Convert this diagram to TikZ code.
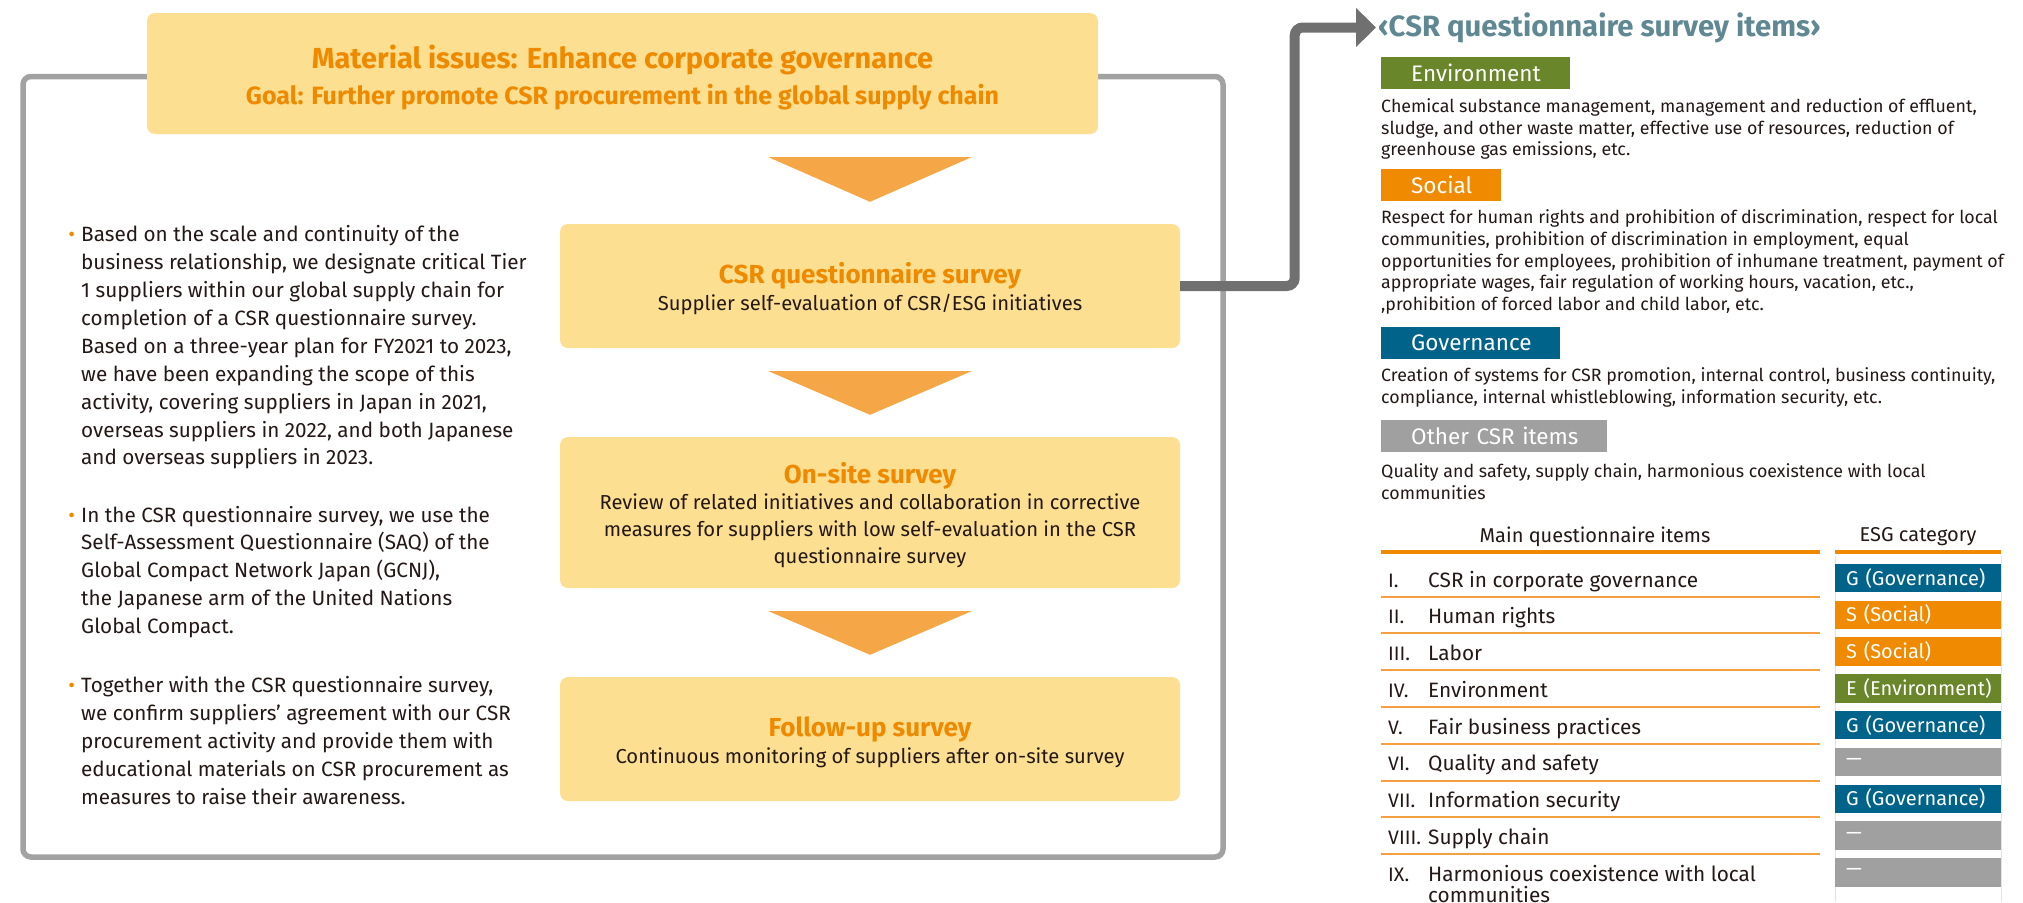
\documentclass[tikz,border=0pt]{standalone}
\usepackage{fontspec}
\setmainfont{Fira Sans}
\usepackage{xcolor}
\definecolor{csrfill}{HTML}{FCDF90}
\definecolor{csrorange}{HTML}{EF8A00}
\definecolor{csrtri}{HTML}{F5A748}
\definecolor{csrframe}{HTML}{A2A2A2}
\definecolor{csrconn}{HTML}{707070}
\definecolor{csrtext}{HTML}{231815}
\definecolor{csrteal}{HTML}{5F8893}
\definecolor{csrgreen}{HTML}{6A862B}
\definecolor{csrsocial}{HTML}{F08A00}
\definecolor{csrblue}{HTML}{00638A}
\definecolor{csrgray}{HTML}{A0A0A0}
\definecolor{csrrule}{HTML}{F5A040}
\definecolor{csrcol}{HTML}{DCE6EB}
\usetikzlibrary{arrows.meta,positioning,calc}

\begin{document}
\begin{tikzpicture}[x=1pt,y=-1pt,
  frame/.style={draw=csrframe, line width=5.5pt, rounded corners=8pt},
  flowbox/.style={fill=csrfill, rounded corners=8pt, inner sep=0pt,
                  minimum width=620pt},
  boxhead/.style={font=\fontsize{26}{30}\selectfont\bfseries, text=csrorange,
                  inner sep=0pt},
  boxsub/.style={font=\fontsize{20.2}{27}\selectfont, text=csrtext,
                 align=center, inner sep=0pt},
  flowtri/.style={fill=csrtri},
  conn/.style={draw=csrconn, line width=10pt, rounded corners=8pt,
               -{Triangle[length=20pt,width=38pt]}},
  bodytext/.style={font=\fontsize{20.7}{27.9}\selectfont, text=csrtext,
                   align=left, anchor=west, inner sep=0pt},
  cattag/.style={anchor=north west, text=white, inner sep=0pt,
                 minimum height=32pt, align=left,
                 font=\fontsize{22.5}{24}\selectfont},
  catdesc/.style={anchor=west, inner sep=0pt, align=left, text=csrtext,
                  font=\fontsize{17.8}{21.7}\selectfont},
  rowtext/.style={anchor=base west, inner sep=0pt, text=csrtext,
                  font=\fontsize{20.8}{21}\selectfont},
  esgtag/.style={anchor=west, text=white, inner sep=0pt,
                 minimum height=28.5pt, text width=166pt, align=left,
                 font=\fontsize{20}{24}\selectfont},
  headrule/.style={draw=csrorange, line width=3.5pt},
  rowrule/.style={draw=csrrule, line width=2pt}
]
  \useasboundingbox (0,0) rectangle (2023,902);

  % outer frame and flow
  \node[frame, minimum width=1200pt, minimum height=780.5pt] (frame)
    at (623,466.75) {};

  \node[flowbox, minimum width=951pt, minimum height=121pt] (goal)
    at (622.5,73.5) {};
  \node[boxhead, font=\fontsize{29}{30}\selectfont\bfseries] (goalhead)
    at (622.5,60) {Material issues: Enhance corporate governance};
  \node[boxhead, font=\fontsize{25}{25}\selectfont\bfseries] (goalsub)
    at (622.5,97) {Goal: Further promote CSR procurement in the global supply chain};

  \node[flowbox, minimum height=124pt] (csrq) at (870,286) {};
  \node[boxhead] (csrqhead) at (870,276) {CSR questionnaire survey};
  \node[boxsub] (csrqsub) at (870,304)
    {Supplier self-evaluation of CSR/ESG initiatives};

  \node[flowbox, minimum height=151pt] (onsite) at (870,512.5) {};
  \node[boxhead] (onsitehead) at (870,476) {On-site survey};
  \node[boxsub] (onsitesub) at (870,531)
    {Review of related initiatives and collaboration in corrective\\
     measures for suppliers with low self-evaluation in the CSR\\
     questionnaire survey};

  \node[flowbox, minimum height=124pt] (followup) at (870,739) {};
  \node[boxhead] (followuphead) at (870,730) {Follow-up survey};
  \node[boxsub] (followupsub) at (870,758)
    {Continuous monitoring of suppliers after on-site survey};

  \foreach \u/\l in {goal/csrq, csrq/onsite, onsite/followup}
    \fill[flowtri] ($(\l.north |- \u.south)+(-101.5,23)$) -- ++(203,0)
      -- ($(\l.north)+(0,-22)$) -- cycle;

  % bullets
  \node[bodytext] (bullet1) at (81,347.5)
    {\llap{\textcolor{csrorange}{•}\hspace{6pt}}Based on the scale and continuity of the\\
     business relationship, we designate critical Tier\\
     1 suppliers within our global supply chain for\\
     completion of a CSR questionnaire survey.\\
     Based on a three-year plan for FY2021 to 2023,\\
     we have been expanding the scope of this\\
     activity, covering suppliers in Japan in 2021,\\
     overseas suppliers in 2022, and both Japanese\\
     and overseas suppliers in 2023.};
  \node[bodytext] (bullet2) at (81,572)
    {\llap{\textcolor{csrorange}{•}\hspace{6pt}}In the CSR questionnaire survey, we use the\\
     Self-Assessment Questionnaire (SAQ) of the\\
     Global Compact Network Japan (GCNJ),\\
     the Japanese arm of the United Nations\\
     Global Compact.};
  \node[bodytext] (bullet3) at (81,740.5)
    {\llap{\textcolor{csrorange}{•}\hspace{6pt}}Together with the CSR questionnaire survey,\\
     we confirm suppliers’ agreement with our CSR\\
     procurement activity and provide them with\\
     educational materials on CSR procurement as\\
     measures to raise their awareness.};

  % survey items panel
  \node[anchor=west, inner sep=0pt, text=csrteal,
        font=\fontsize{29.3}{32}\selectfont\bfseries]
    (itemstitle) at (1378,27.5) {‹CSR questionnaire survey items›};
  \draw[conn, shorten >=2pt] (csrq.east) -- ++(114.5,0) |- (itemstitle.west);

  \node[cattag, fill=csrgreen, text width=189pt] (envtag) at (1381,57)
    {\hspace*{30pt}Environment};
  \node[catdesc] (envdesc) at (1381,129)
    {Chemical substance management, management and reduction of effluent,\\
     sludge, and other waste matter, effective use of resources, reduction of\\
     greenhouse gas emissions, etc.};
  \node[cattag, fill=csrsocial, text width=120pt] (soctag) at (1381,169)
    {\hspace*{30pt}Social};
  \node[catdesc] (socdesc) at (1381,262)
    {Respect for human rights and prohibition of discrimination, respect for local\\
     communities, prohibition of discrimination in employment, equal\\
     opportunities for employees, prohibition of inhumane treatment, payment of\\
     appropriate wages, fair regulation of working hours, vacation, etc.,\\
     ,prohibition of forced labor and child labor, etc.};
  \node[cattag, fill=csrblue, text width=179pt] (govtag) at (1381,327)
    {\hspace*{30pt}Governance};
  \node[catdesc] (govdesc) at (1381,387.5)
    {Creation of systems for CSR promotion, internal control, business continuity,\\
     compliance, internal whistleblowing, information security, etc.};
  \node[cattag, fill=csrgray, text width=226pt] (othtag) at (1381,420)
    {\hspace*{30pt}Other CSR items};
  \node[catdesc] (othdesc) at (1381,481.5)
    {Quality and safety, supply chain, harmonious coexistence with local\\
     communities};

  % table
  \draw[csrcol, line width=1pt] (1835,556) -- (1835,902);
  \draw[csrcol, line width=1pt] (2001,556) -- (2001,902);
  \node[rowtext, font=\fontsize{20}{21}\selectfont, anchor=center]
    (headitems) at (1595,537) {Main questionnaire items};
  \node[rowtext, font=\fontsize{20}{21}\selectfont, anchor=center]
    (headesg) at (1918,537) {ESG category};
  \draw[headrule] (1381,552) -- (1820,552);
  \draw[headrule] (1835,552) -- (2001,552);
  \foreach \k in {0,...,7}
    \draw[rowrule] (1381,{596.5+36.8*\k}) -- (1820,{596.5+36.8*\k});
  \foreach \num/\qitem/\esg/\col [count=\k from 0] in {
      I./CSR in corporate governance/G (Governance)/csrblue,
      II./Human rights/S (Social)/csrsocial,
      III./Labor/S (Social)/csrsocial,
      IV./Environment/E (Environment)/csrgreen,
      V./Fair business practices/G (Governance)/csrblue,
      VI./Quality and safety/—/csrgray,
      VII./Information security/G (Governance)/csrblue,
      VIII./Supply chain/—/csrgray,
      IX./{\vtop{\hbox{Harmonious coexistence with local}\hbox{communities}}}/—/csrgray}
  {
    \node[rowtext, font=\fontsize{19.5}{21}\selectfont] (num\k)
      at (1388,{587+36.75*\k}) {\num};
    \node[rowtext] (item\k) at (1428,{587+36.75*\k}) {\qitem};
    \node[esgtag, fill=\col] (esg\k) at (1835,{578+36.8*\k})
      {\hspace*{11pt}\esg};
  }
\end{tikzpicture}
\end{document}
